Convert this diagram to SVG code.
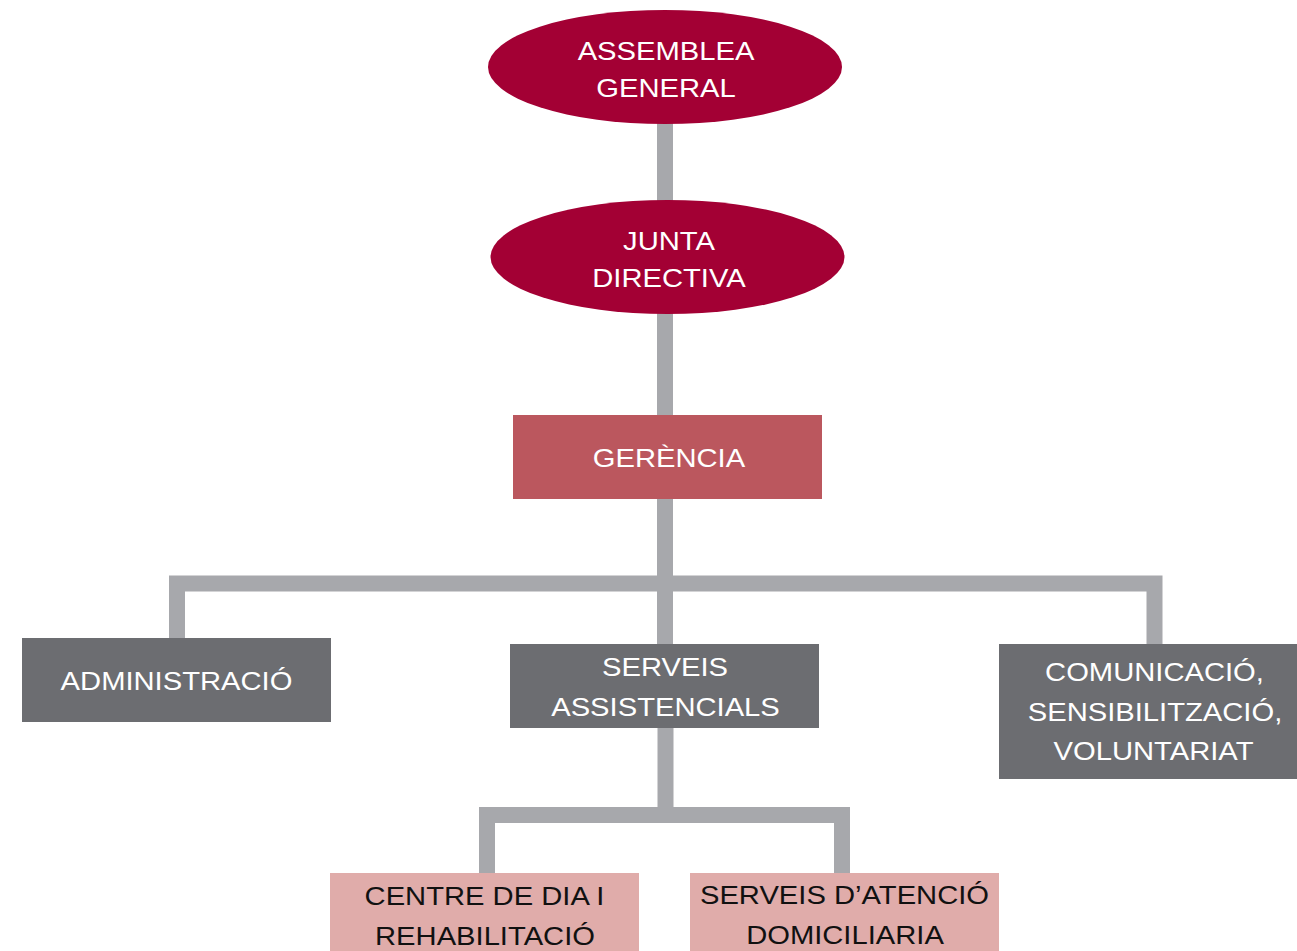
<svg xmlns="http://www.w3.org/2000/svg" width="1297" height="951" viewBox="0 0 1297 951">
<style>
.ln{fill:none;stroke:#A7A8AC;stroke-width:16;stroke-linejoin:miter;stroke-linecap:butt}
.t{font-family:"Liberation Sans",Arial,sans-serif;font-size:25.6px;text-anchor:middle;fill:#FFFFFF}
.dk{fill:#111111}
.el{fill:#A30034}
.ger{fill:#BB575E}
.gr{fill:#6C6D71}
.pk{fill:#E0ACAA}
</style>
<rect width="1297" height="951" fill="#FFFFFF"/>
<g id="connectors">
<path class="ln" d="M665,120 V420"/>
<path class="ln" d="M665,495 V644"/>
<path class="ln" d="M177,640 V583.5 H1154.5 V646"/>
<path class="ln" d="M665.5,726 V815 M487,875 V815 H842 V875"/>
</g>
<g id="assemblea">
<ellipse class="el" cx="665" cy="67" rx="177" ry="57"/>
<text class="t" transform="translate(666 60) scale(1.14 1)">ASSEMBLEA</text>
<text class="t" transform="translate(666 97) scale(1.14 1)">GENERAL</text>
</g>
<g id="junta">
<ellipse class="el" cx="667.5" cy="257" rx="177" ry="57"/>
<text class="t" transform="translate(669 250) scale(1.14 1)">JUNTA</text>
<text class="t" transform="translate(669 287) scale(1.14 1)">DIRECTIVA</text>
</g>
<g id="gerencia">
<rect class="ger" x="513" y="415" width="309" height="84"/>
<text class="t" transform="translate(669 467) scale(1.14 1)">GERÈNCIA</text>
</g>
<g id="administracio">
<rect class="gr" x="22" y="638" width="309" height="84"/>
<text class="t" transform="translate(176.5 690) scale(1.14 1)">ADMINISTRACIÓ</text>
</g>
<g id="serveis-assistencials">
<rect class="gr" x="510" y="644" width="309" height="84"/>
<text class="t" transform="translate(665 676) scale(1.14 1)">SERVEIS</text>
<text class="t" transform="translate(665.5 716) scale(1.14 1)">ASSISTENCIALS</text>
</g>
<g id="comunicacio">
<rect class="gr" x="999" y="644" width="310" height="135"/>
<text class="t" transform="translate(1154.5 681) scale(1.14 1)">COMUNICACIÓ,</text>
<text class="t" transform="translate(1155 721) scale(1.14 1)">SENSIBILITZACIÓ,</text>
<text class="t" transform="translate(1153.5 760) scale(1.14 1)">VOLUNTARIAT</text>
</g>
<g id="centre-de-dia">
<rect class="pk" x="330" y="873" width="309" height="90"/>
<text class="t dk" transform="translate(484.5 905) scale(1.14 1)">CENTRE DE DIA I</text>
<text class="t dk" transform="translate(485 945) scale(1.14 1)">REHABILITACIÓ</text>
</g>
<g id="serveis-atencio">
<rect class="pk" x="690" y="873" width="309" height="90"/>
<text class="t dk" transform="translate(844.5 904) scale(1.14 1)">SERVEIS D’ATENCIÓ</text>
<text class="t dk" transform="translate(845 944) scale(1.14 1)">DOMICILIARIA</text>
</g>
</svg>
